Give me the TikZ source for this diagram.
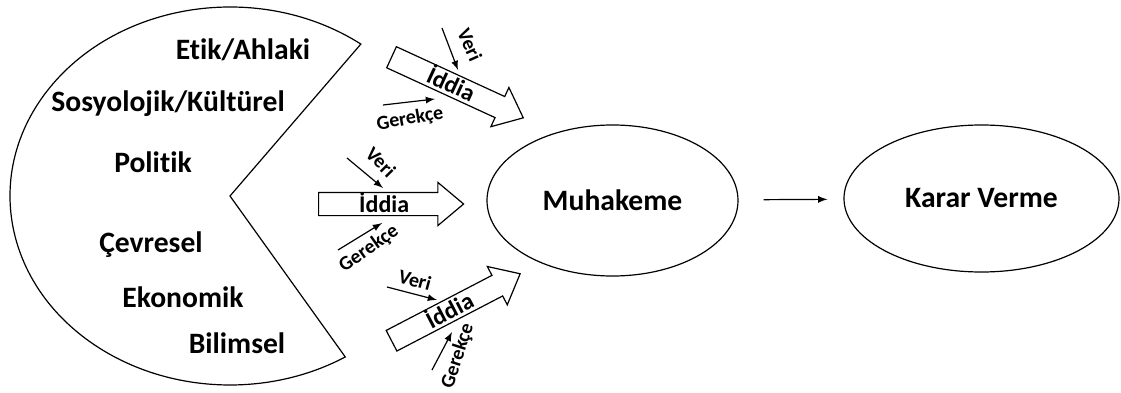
\documentclass[tikz,border=0pt]{standalone}
\usepackage{fontspec}
\setmainfont{Carlito}[Ligatures=NoCommon]
\usetikzlibrary{shapes.geometric,shapes.arrows}

\begin{document}
\begin{tikzpicture}[x=0.5pt,y=0.5pt,
                    bigND/.style={ellipse,
                                  draw=black,
                                  line width=0.6pt,
                                  inner sep=0pt,
                                  font=\fontsize{14.8}{17}\selectfont\bfseries},
                    lblND/.style={inner sep=0pt,
                                  font=\fontsize{14.8}{17}\selectfont\bfseries},
                    iddND/.style={single arrow,
                                  draw=black,
                                  line width=0.6pt,
                                  anchor=tail,
                                  minimum height=72.5pt,
                                  minimum width=21pt,
                                  single arrow head extend=5pt,
                                  single arrow tip angle=80,
                                  inner ysep=1.5pt,
                                  text height=8pt,
                                  text depth=0pt,
                                  font=\fontsize{12}{14}\selectfont\bfseries},
                    smlND/.style={inner sep=0pt,
                                  font=\fontsize{10}{12}\selectfont\bfseries}]
        \useasboundingbox (0,0) rectangle (1121,392);
        % boyutlar
        \coordinate (P) at (230,196);
        \draw[line width=0.6pt] (P) -- ++(53.5:110pt and 94.5pt)
            arc[start angle=53.5, end angle=301.6, x radius=110pt, y radius=94.5pt] -- cycle;
        \node[lblND](L1) at (243,342) {Etik/Ahlaki};
        \node[lblND](L2) at (168,288) {Sosyolojik/Kültürel};
        \node[lblND](L3) at (153,230) {Politik};
        \node[lblND](L4) at (151,147) {Çevresel};
        \node[lblND](L5) at (183,95)  {Ekonomik};
        \node[lblND](L6) at (237,49)  {Bilimsel};
        % iddia oklari
        \node[iddND, rotate=-24.7](I1) at (391,335) {İddia};
        \node[iddND](I2) at (318,188) {İddia};
        \node[iddND, rotate=27.5](I3) at (391,51)  {İddia};
        % veri / gerekce
        \coordinate (V1a) at (442,364); \coordinate (V1b) at (458,322);
        \coordinate (G1a) at (383,287); \coordinate (G1b) at (435,293);
        \coordinate (V2a) at (347,234); \coordinate (V2b) at (383,204);
        \coordinate (G2a) at (338,142); \coordinate (G2b) at (382,169);
        \coordinate (V3a) at (387,105); \coordinate (V3b) at (437,92);
        \coordinate (G3a) at (432,22);  \coordinate (G3b) at (452,60);
        \node[smlND, rotate=-66](VT1) at (470,347) {Veri};
        \node[smlND, rotate=10] (GT1) at (410,273) {Gerekçe};
        \node[smlND, rotate=-45](VT2) at (381,230) {Veri};
        \node[smlND, rotate=35] (GT2) at (369,143) {Gerekçe};
        \node[smlND, rotate=-15](VT3) at (415,112) {Veri};
        \node[smlND, rotate=72] (GT3) at (458,36)  {Gerekçe};
        \path[line width=0.6pt]
            (V1a) edge [-latex] (V1b)
            (G1a) edge [-latex] (G1b)
            (V2a) edge [-latex] (V2b)
            (G2a) edge [-latex] (G2b)
            (V3a) edge [-latex] (V3b)
            (G3a) edge [-latex] (G3b);
        % sonuc
        \node[bigND, minimum width=125.5pt, minimum height=75.5pt](M) at (612.5,191.5) {Muhakeme};
        \node[bigND, minimum width=137.5pt, minimum height=73.5pt](K) at (981.5,193.5) {Karar Verme};
        \path
            (M) edge [-latex, line width=0.6pt, shorten <=12.5pt, shorten >=8pt] (K);
    \end{tikzpicture}
\end{document}
